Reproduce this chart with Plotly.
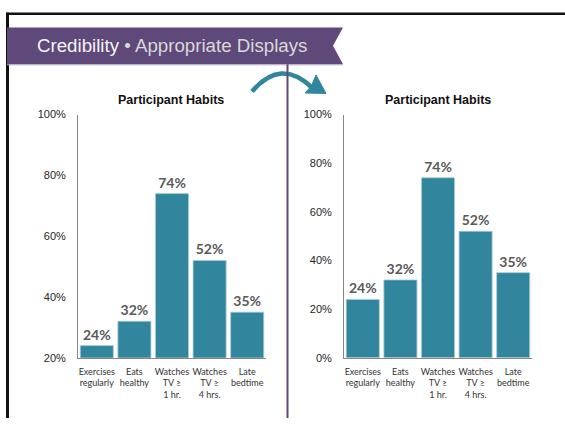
import plotly.graph_objects as go

# ---- data ----
categories = ["Exercises<br>regularly", "Eats<br>healthy", "Watches<br>TV ≥<br>1 hr.",
              "Watches<br>TV ≥<br>4 hrs.", "Late<br>bedtime"]
habit_pct = [24, 32, 74, 52, 35]
left_range = [20, 100]
right_range = [0, 100]
chart_title = "Participant Habits"
banner_main = "Credibility"
banner_sub = "Appropriate Displays"

# ---- canvas helpers (pixel -> paper) ----
W, H = 565, 424


def px(x):
    return x / W


def py(y):
    return 1 - y / H


TEAL = "#31859C"
PURPLE = "#5F497A"
LABEL_GREY = "#595959"
AXIS_GREY = "#868686"

fig = go.Figure()

for ax in ("", "2"):
    fig.add_trace(go.Bar(
        x=categories, y=habit_pct,
        xaxis="x" + ax, yaxis="y" + ax,
        marker=dict(color=TEAL, line=dict(color="#A9CCD8", width=0.8)),
        text=[f"{v}%" for v in habit_pct],
        textposition="outside",
        cliponaxis=False,
        textfont=dict(family="Lato, sans-serif", size=14, color=LABEL_GREY, weight="bold"),
        showlegend=False,
        hoverinfo="skip",
    ))

plot_top, plot_bot = 111.7, 362
xaxis_common = dict(
    showline=True, linecolor=AXIS_GREY, linewidth=1, ticks="", showgrid=False,
    tickfont=dict(family="Lato, sans-serif", size=9, color="#333333"),
    tickangle=0, ticklabelstandoff=5, fixedrange=True,
)
yaxis_common = dict(
    showline=True, linecolor=AXIS_GREY, linewidth=1, ticks="", showgrid=False,
    zeroline=False, dtick=20, ticksuffix="%", ticklabelstandoff=9,
    tickfont=dict(family="Liberation Sans, Arial, sans-serif", size=11, color="#262626"),
    fixedrange=True,
)

fig.update_layout(
    width=W, height=H,
    margin=dict(l=0, r=0, t=0, b=0),
    paper_bgcolor="white", plot_bgcolor="white",
    bargap=0.12,
    xaxis=dict(domain=[px(78), px(266)], anchor="y", **xaxis_common),
    yaxis=dict(domain=[py(plot_bot), py(plot_top)], anchor="x", range=left_range, **yaxis_common),
    xaxis2=dict(domain=[px(344), px(532)], anchor="y2", **xaxis_common),
    yaxis2=dict(domain=[py(plot_bot), py(plot_top)], anchor="x2", range=right_range, **yaxis_common),
)

shapes = []
# slide frame (top and left edges)
shapes.append(dict(type="line", xref="paper", yref="paper",
                   x0=px(6), x1=px(W), y0=py(8), y1=py(8),
                   line=dict(color="#111111", width=2.5)))
shapes.append(dict(type="line", xref="paper", yref="paper",
                   x0=px(7.5), x1=px(7.5), y0=py(7), y1=py(H),
                   line=dict(color="#111111", width=3)))
# header ribbon with notched right end
ribbon = [(7, 22), (343, 22), (333, 41), (343, 60), (7, 60)]
path = "M " + " L ".join(f"{px(x)},{py(y)}" for x, y in ribbon) + " Z"
shapes.append(dict(type="path", xref="paper", yref="paper", path=path,
                   fillcolor=PURPLE, line=dict(width=0)))
shapes.append(dict(type="line", xref="paper", yref="paper",
                   x0=px(7), x1=px(343), y0=py(60.5), y1=py(60.5),
                   line=dict(color="#B3A2C7", width=1)))
# curved arrow between the two charts
x0, y0, cx, cy, x1, y1 = 252, 88, 281, 53, 312, 84
shapes.append(dict(type="path", xref="paper", yref="paper",
                   path=f"M {px(x0)},{py(y0)} Q {px(cx)},{py(cy)} {px(x1)},{py(y1)}",
                   line=dict(color=TEAL, width=4.5)))
head = [(316, 71), (326, 90), (305, 89.5), (311, 83)]
hpath = "M " + " L ".join(f"{px(x)},{py(y)}" for x, y in head) + " Z"
shapes.append(dict(type="path", xref="paper", yref="paper", path=hpath,
                   fillcolor=TEAL, line=dict(color=TEAL, width=1)))
# divider between the two charts
shapes.append(dict(type="line", xref="paper", yref="paper",
                   x0=px(287.5), x1=px(287.5), y0=py(60), y1=py(H),
                   line=dict(color=PURPLE, width=2)))
fig.update_layout(shapes=shapes)

annotations = [
    dict(xref="paper", yref="paper", x=px(35), y=py(41), xanchor="left", yanchor="middle",
         showarrow=False,
         text=f"<span style='color:#F4F4F4'>{banner_main}</span> • {banner_sub}",
         font=dict(family="Liberation Sans, Arial, sans-serif", size=18.7, color="#D9D9D9")),
    dict(xref="paper", yref="paper", x=px(170.7), y=py(97), xanchor="center", yanchor="middle",
         showarrow=False, text=f"<b>{chart_title}</b>",
         font=dict(family="Liberation Sans, Arial, sans-serif", size=12.5, color="#111111")),
    dict(xref="paper", yref="paper", x=px(438), y=py(97), xanchor="center", yanchor="middle",
         showarrow=False, text=f"<b>{chart_title}</b>",
         font=dict(family="Liberation Sans, Arial, sans-serif", size=12.5, color="#111111")),
]
fig.update_layout(annotations=annotations)

fig.write_html("out.html")
